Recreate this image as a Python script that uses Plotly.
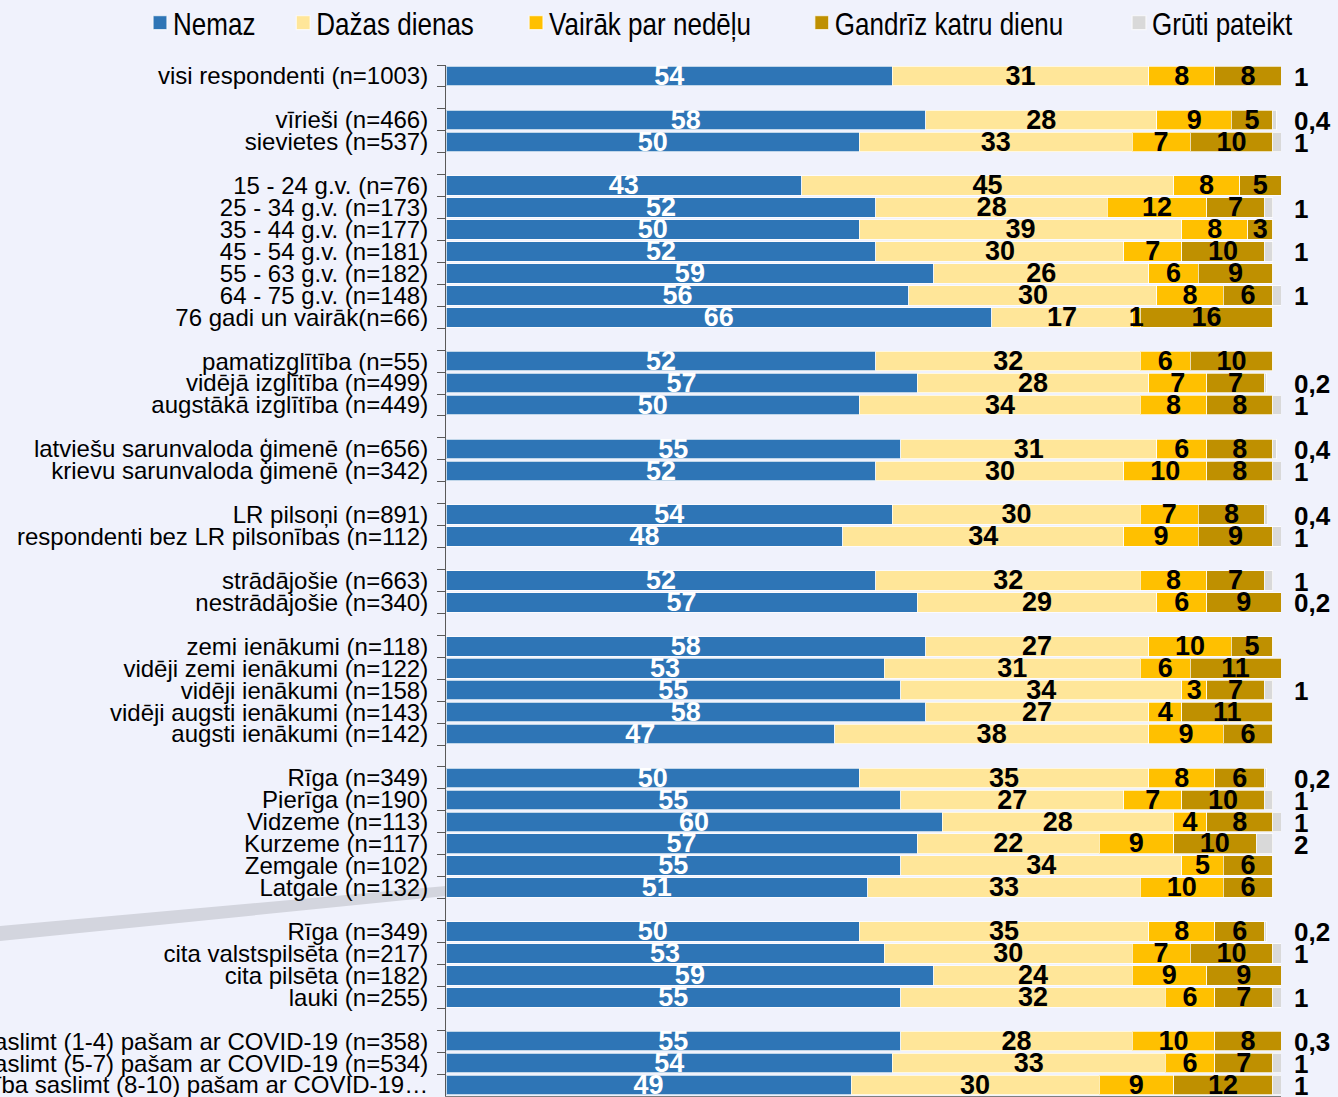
import plotly.graph_objects as go

categories = [
    "visi respondenti (n=1003)", "",
    "vīrieši (n=466)", "sievietes (n=537)", "",
    "15 - 24 g.v. (n=76)", "25 - 34 g.v. (n=173)", "35 - 44 g.v. (n=177)",
    "45 - 54 g.v. (n=181)", "55 - 63 g.v. (n=182)", "64 - 75 g.v. (n=148)",
    "76 gadi un vairāk(n=66)", "",
    "pamatizglītība (n=55)", "vidējā izglītība (n=499)", "augstākā izglītība (n=449)", "",
    "latviešu sarunvaloda ģimenē (n=656)", "krievu sarunvaloda ģimenē (n=342)", "",
    "LR pilsoņi (n=891)", "respondenti bez LR pilsonības (n=112)", "",
    "strādājošie (n=663)", "nestrādājošie (n=340)", "",
    "zemi ienākumi (n=118)", "vidēji zemi ienākumi (n=122)", "vidēji ienākumi (n=158)",
    "vidēji augsti ienākumi (n=143)", "augsti ienākumi (n=142)", "",
    "Rīga (n=349)", "Pierīga (n=190)", "Vidzeme (n=113)", "Kurzeme (n=117)",
    "Zemgale (n=102)", "Latgale (n=132)", "",
    "Rīga (n=349)", "cita valstspilsēta (n=217)", "cita pilsēta (n=182)", "lauki (n=255)", "",
    "Maza iespējamība saslimt (1-4) pašam ar COVID-19 (n=358)",
    "Vidēja iespējamība saslimt (5-7) pašam ar COVID-19 (n=534)",
    "Liela iespējamība saslimt (8-10) pašam ar COVID-19…",
]

series_names = ["Nemaz", "Dažas dienas", "Vairāk par nedēļu", "Gandrīz katru dienu", "Grūti pateikt"]

N = None  # blank spacer rows
nemaz = [54, N, 58, 50, N, 43, 52, 50, 52, 59, 56, 66, N, 52, 57, 50, N, 55, 52, N, 54, 48, N, 52, 57, N,
         58, 53, 55, 58, 47, N, 50, 55, 60, 57, 55, 51, N, 50, 53, 59, 55, N, 55, 54, 49]
dazas = [31, N, 28, 33, N, 45, 28, 39, 30, 26, 30, 17, N, 32, 28, 34, N, 31, 30, N, 30, 34, N, 32, 29, N,
         27, 31, 34, 27, 38, N, 35, 27, 28, 22, 34, 33, N, 35, 30, 24, 32, N, 28, 33, 30]
vairak = [8, N, 9, 7, N, 8, 12, 8, 7, 6, 8, 1, N, 6, 7, 8, N, 6, 10, N, 7, 9, N, 8, 6, N,
          10, 6, 3, 4, 9, N, 8, 7, 4, 9, 5, 10, N, 8, 7, 9, 6, N, 10, 6, 9]
gandriz = [8, N, 5, 10, N, 5, 7, 3, 10, 9, 6, 16, N, 10, 7, 8, N, 8, 8, N, 8, 9, N, 7, 9, N,
           5, 11, 7, 11, 6, N, 6, 10, 8, 10, 6, 6, N, 6, 10, 9, 7, N, 8, 7, 12]
gruti = [1, N, 0.4, 1, N, 0, 1, 0, 1, 0, 1, 0, N, 0, 0.2, 1, N, 0.4, 1, N, 0.4, 1, N, 1, 0.2, N,
         0, 0, 1, 0, 0, N, 0.2, 1, 1, 2, 0, 0, N, 0.2, 1, 0, 1, N, 0.3, 1, 1]

colors = ["#2E75B6", "#FFE699", "#FFC000", "#BF9000", "#D9D9D9"]
label_colors = ["white", "black", "black", "black", "black"]

# make category names unique (blank spacer rows, repeated labels)
ycats = []
seen = {}
for c in categories:
    k = seen.get(c, 0)
    seen[c] = k + 1
    ycats.append(c + "\u200b" * k if c else "\u200b" * (k + 1) + " ")

all_series = [nemaz, dazas, vairak, gandriz, gruti]

fig = go.Figure()
for name, vals, col in zip(series_names, all_series, colors):
    fig.add_trace(go.Bar(
        y=ycats, x=vals, name=name, orientation="h",
        marker=dict(color=col, line=dict(color="rgba(255,255,255,0.7)", width=1)),
        hoverinfo="skip",
    ))

# value labels centred in each segment
cum = [0.0] * len(ycats)
for si, vals in enumerate(all_series[:4]):
    xs, ys, ts = [], [], []
    for i, v in enumerate(vals):
        if v is None:
            continue
        xs.append(cum[i] + v / 2)
        ys.append(ycats[i])
        ts.append(str(v))
        cum[i] += v
    fig.add_trace(go.Scatter(
        x=xs, y=ys, text=ts, mode="text", textposition="middle center",
        textfont=dict(family="Liberation Sans, Arial", size=27,
                      color=label_colors[si], weight="bold"),
        showlegend=False, hoverinfo="skip", cliponaxis=False,
    ))

# "Grūti pateikt" labels outside the bars (right of the plot edge)
annotations = []
for i, v in enumerate(gruti):
    if v is None or v == 0:
        continue
    annotations.append(dict(
        x=101, y=ycats[i], xref="x", yref="y", xanchor="left", yanchor="middle",
        xshift=11, yshift=-1, showarrow=False, text=("%g" % v).replace(".", ","),
        font=dict(family="Liberation Sans, Arial", size=26, color="black", weight="bold"),
    ))

L, R, T, B = 446, 1281, 65, 1096
W, H = 1338, 1097

def px2paper(px, py):
    return (px - L) / (R - L), (B - py) / (B - T)

p = [px2paper(0, 926), px2paper(0, 941), px2paper(446, 896), px2paper(446, 886)]
path = "M {} {} L {} {} L {} {} L {} {} Z".format(*[c for pt in p for c in pt])

n = len(ycats)
fig.update_layout(
    width=W, height=H,
    margin=dict(l=L, r=W - R, t=T, b=H - B, autoexpand=False),
    barmode="stack", bargap=0.11,
    paper_bgcolor="#F0F2FC", plot_bgcolor="#F0F2FC",
    font=dict(family="Liberation Sans, Arial", color="black"),
    showlegend=True,
    legend=dict(orientation="h", x=(153 - 20 - L) / (R - L), xanchor="left",
                y=1 + (T + 4) / (B - T), yanchor="top",
                font=dict(family="Liberation Sans, Arial", size=31),
                traceorder="normal", itemwidth=30, bgcolor="rgba(0,0,0,0)"),
    xaxis=dict(range=[0, 101], tickvals=[0, 20, 40, 60, 80, 100], showticklabels=False,
               ticks="outside", ticklen=6, tickcolor="#7F7F7F", showgrid=False, zeroline=False,
               showline=True, linecolor="#7F7F7F", linewidth=1, fixedrange=True),
    yaxis=dict(type="category", categoryorder="array", categoryarray=ycats,
               range=[n - 0.5, -0.5], tickmode="linear", tick0=0, dtick=1,
               tickson="boundaries", ticks="outside", ticklen=8, tickcolor="#595959",
               showline=True, linecolor="#595959", linewidth=1, showgrid=False,
               tickfont=dict(family="Liberation Sans, Arial", size=24, color="black"),
               automargin=False, ticklabelstandoff=12),
    annotations=annotations,
    shapes=[dict(type="path", path=path, xref="paper", yref="paper",
                 fillcolor="#D3D5DE", line=dict(width=0), layer="below")],
)

post = """
var s = document.createElement('style');
s.textContent = "body{margin:0;overflow:hidden}" +
  ".scatterlayer .textpoint text{transform:translateY(2px)}" +
  ".legend .legendtext{transform:scaleX(0.84);transform-box:fill-box;transform-origin:left center}" +
  ".legend .legendpoints path{transform:translate(27px,0) scale(1.15)}";
document.head.appendChild(s);
"""

fig.write_html("out.html", post_script=post, config={"displayModeBar": False})
